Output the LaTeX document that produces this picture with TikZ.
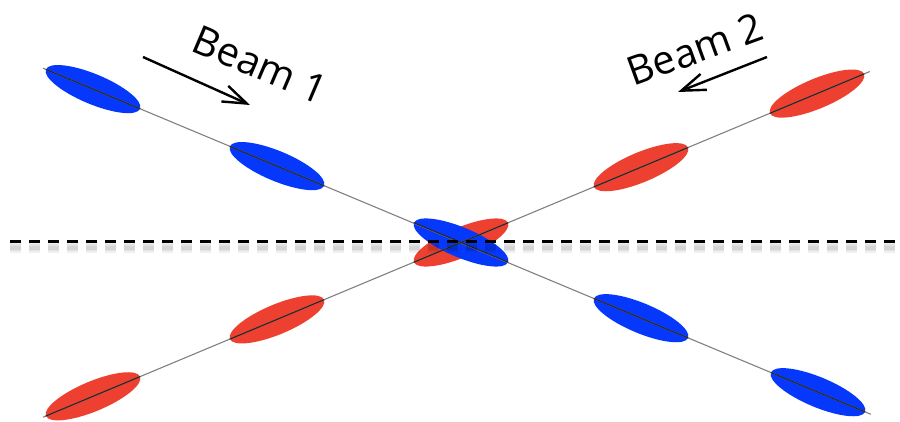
\documentclass[tikz,border=0pt]{standalone}
\usepackage{fontspec}
\setmainfont{Open Sans}
\usetikzlibrary{shapes.geometric,arrows.meta}
\definecolor{beamblue}{RGB}{5,56,250}
\definecolor{beamred}{RGB}{238,64,48}
\begin{document}
\begin{tikzpicture}[x=1pt,y=-1pt,
  bunch/.style={ellipse, minimum width=102pt, minimum height=30pt, inner sep=0pt, draw=none},
  bb/.style={bunch, fill=beamblue, rotate=-22.7},
  rb/.style={bunch, fill=beamred, rotate=22.7},
  beamaxis/.style={draw=black!50, line width=1.1pt},
  beamcore/.style={draw=black!85, line width=1.1pt},
  arrowline/.style={line width=2.4pt, -{Straight Barb[length=24pt,width=17pt]}},
  beamtext/.style={font=\fontsize{40}{42}\selectfont, inner sep=0pt},
  dashline/.style={line width=3pt, dash pattern=on 11pt off 8pt},
  dashshadow/.style={line width=#1, dash pattern=on 11pt off 8pt, draw=black, opacity=0.06}]
\useasboundingbox (0,0) rectangle (900,422);
% red bunches (beam 2)
\node[rb] (r1) at (93,396.3) {};
\node[rb] (r2) at (277,319.4) {};
\node[rb] (r3) at (461,242.5) {};
\node[rb] (r4) at (641,167.2) {};
\node[rb] (r5) at (817,93.6) {};
% blue bunches (beam 1)
\node[bb] (b1) at (93,89.1) {};
\node[bb] (b2) at (277,166.1) {};
\node[bb] (b3) at (461,242.5) {};
\node[bb] (b4) at (641,318.2) {};
\node[bb] (b5) at (818,392.2) {};
% beam axes
\draw[beamaxis, shorten <=-3pt, shorten >=-6pt] (b1.west) -- (b5.east);
\draw[beamaxis, shorten <=-3pt, shorten >=-6pt] (r1.west) -- (r5.east);
\foreach \i in {1,...,5} {
  \draw[beamcore] (b\i.west) -- (b\i.east);
  \draw[beamcore] (r\i.west) -- (r\i.east);
}
% dashed line with shadow
\coordinate (dl) at (10,242);
\coordinate (dr) at (900,242);
\draw[dashshadow=10pt] ([yshift=-6pt]dl) -- ([yshift=-6pt]dr);
\draw[dashshadow=7pt] ([yshift=-6pt]dl) -- ([yshift=-6pt]dr);
\draw[dashshadow=4pt] ([yshift=-6pt]dl) -- ([yshift=-6pt]dr);
\draw[dashline] (dl) -- (dr);
% labels and arrows
\node[beamtext, rotate=-23] (t1) at (260,65) {Beam 1};
\node[beamtext, rotate=20] (t2) at (695,49) {Beam 2};
\coordinate (a1s) at (143,57);
\coordinate (a1e) at (250,105);
\coordinate (a2s) at (767,57);
\coordinate (a2e) at (678,92);
\draw[arrowline] (a1s) -- (a1e);
\draw[arrowline] (a2s) -- (a2e);
\end{tikzpicture}
\end{document}
